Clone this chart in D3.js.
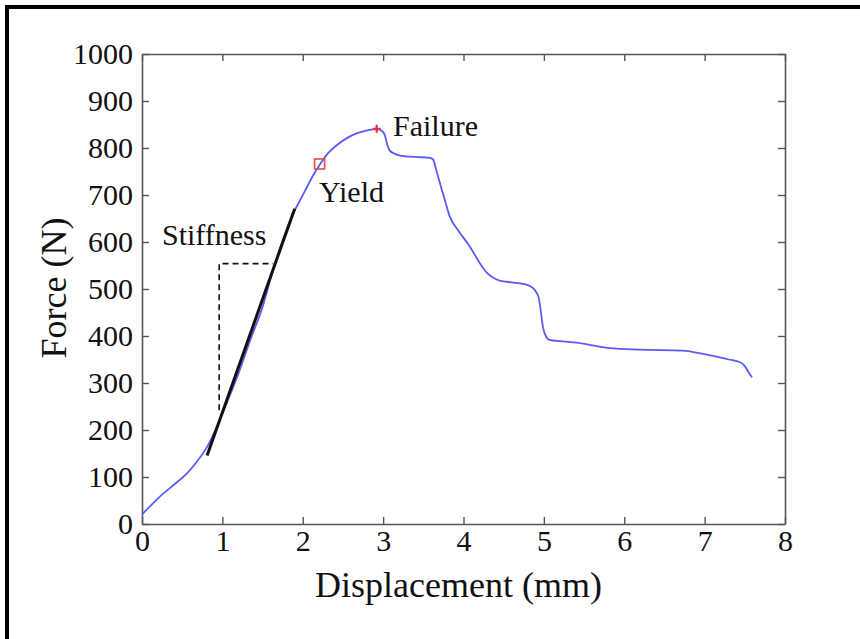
<!DOCTYPE html>
<html>
<head>
<meta charset="utf-8">
<script src="https://cdn.jsdelivr.net/npm/d3@7"></script>
<style>
  body { margin: 0; background: #fff; }
  text { font-family: "Liberation Serif", "DejaVu Serif", serif; fill: #111; }
</style>
</head>
<body>
<div id="chart"></div>
<script>
// Chart size
const width = 860;
const height = 639;

// Force-displacement curve
const dispMm = [0, 0.13, 0.26, 0.40, 0.55, 0.68, 0.81, 0.93, 1.06, 1.20, 1.34, 1.50, 1.63, 1.76, 1.88, 1.97,
                2.05, 2.13, 2.21, 2.30, 2.43, 2.55, 2.67, 2.77, 2.85, 2.92, 2.98, 3.02, 3.05, 3.08, 3.14,
                3.21, 3.40, 3.58, 3.62, 3.65, 3.69, 3.75, 3.83, 3.95, 4.08, 4.20, 4.29, 4.37, 4.45, 4.60,
                4.74, 4.85, 4.91, 4.94, 4.96, 4.99, 5.03, 5.07, 5.20, 5.41, 5.60, 5.82, 6.20, 6.73,
                6.95, 7.15, 7.30, 7.44, 7.50, 7.55, 7.59];
const forceN = [20, 43, 64, 84, 106, 132, 164, 206, 260, 320, 388, 462, 540, 608, 660, 690,
                716, 742, 764, 786, 807, 821, 831, 836, 839, 840, 837, 828, 808, 795, 788,
                784, 781, 779, 776, 760, 735, 700, 654, 621, 590, 556, 535, 524, 518, 514,
                511, 504, 492, 478, 455, 418, 398, 392, 389, 386, 380, 374, 371, 369,
                363, 356, 350, 344, 336, 322, 312];

// Stiffness fit line and the dashed slope triangle
const stiffX = [0.81, 1.90];
const stiffY = [146, 671];
const triX = [0.96, 0.96, 1.63];
const triY = [242, 554, 554];

// Marked points
const yieldPt = { x: 2.21, y: 766 };
const failPt = { x: 2.92, y: 841 };

// Axis ticks
const xTicks = [0, 1, 2, 3, 4, 5, 6, 7, 8];
const yTicks = [0, 100, 200, 300, 400, 500, 600, 700, 800, 900, 1000];

const svg = d3.select("#chart")
              .append("svg")
              .attr("width", width)
              .attr("height", height);

// outer frame (top and left only, as in the picture)
svg.append("line").attr("x1", 5).attr("x2", width).attr("y1", 7).attr("y2", 7)
   .attr("stroke", "#000").attr("stroke-width", 4);
svg.append("line").attr("x1", 7).attr("x2", 7).attr("y1", 5).attr("y2", height)
   .attr("stroke", "#000").attr("stroke-width", 4);

const x = d3.scaleLinear().domain([0, 8]).range([142, 785]);
const y = d3.scaleLinear().domain([0, 1000]).range([524, 54]);

const axisColor = "#555";
const tickLen = 7;
const fmt = d3.format("d");

// axes with inward ticks on all four sides
const axB = svg.append("g").attr("transform", `translate(0,${y(0)})`)
               .call(d3.axisBottom(x).tickValues(xTicks).tickFormat(fmt).tickSizeInner(-tickLen).tickSizeOuter(0).tickPadding(6));
const axT = svg.append("g").attr("transform", `translate(0,${y(1000)})`)
               .call(d3.axisTop(x).tickValues(xTicks).tickSizeInner(-tickLen).tickSizeOuter(0).tickFormat(""));
const axL = svg.append("g").attr("transform", `translate(${x(0)},0)`)
               .call(d3.axisLeft(y).tickValues(yTicks).tickFormat(fmt).tickSizeInner(-tickLen).tickSizeOuter(0).tickPadding(9));
const axR = svg.append("g").attr("transform", `translate(${x(8)},0)`)
               .call(d3.axisRight(y).tickValues(yTicks).tickSizeInner(-tickLen).tickSizeOuter(0).tickFormat(""));

[axB, axT, axL, axR].forEach(a => {
    a.select(".domain").attr("stroke", axisColor).attr("stroke-width", 1.6);
    a.selectAll(".tick line").attr("stroke", axisColor).attr("stroke-width", 1.4);
    a.selectAll(".tick text").attr("font-family", "Liberation Serif, serif")
     .attr("font-size", 30).attr("fill", "#111");
});
axB.selectAll(".tick text").attr("dy", "0.71em");

// main curve
const pts = dispMm.map((d, i) => [d, forceN[i]]);
const line = d3.line().x(d => x(d[0])).y(d => y(d[1])).curve(d3.curveMonotoneX);
svg.append("path")
   .datum(pts)
   .attr("d", line)
   .attr("fill", "none")
   .attr("stroke", "#5b5bf5")
   .attr("stroke-width", 1.8)
   .attr("stroke-linejoin", "round");

const straight = d3.line().x(d => x(d[0])).y(d => y(d[1]));

// stiffness fit line
svg.append("path")
   .datum(stiffX.map((d, i) => [d, stiffY[i]]))
   .attr("d", straight)
   .attr("stroke", "#111")
   .attr("stroke-width", 3);

// dashed triangle
svg.append("path")
   .datum(triX.map((d, i) => [d, triY[i]]))
   .attr("d", straight)
   .attr("fill", "none")
   .attr("stroke", "#111")
   .attr("stroke-width", 1.6)
   .attr("stroke-dasharray", "6,4");

// yield marker (square)
svg.append("rect")
   .attr("x", x(yieldPt.x) - 5)
   .attr("y", y(yieldPt.y) - 5)
   .attr("width", 10)
   .attr("height", 10)
   .attr("fill", "none")
   .attr("stroke", "#e04848")
   .attr("stroke-width", 1.6);

// failure marker (red plus)
svg.append("path")
   .attr("transform", `translate(${x(failPt.x)},${y(failPt.y)})`)
   .attr("d", "M-4,0H4M0,-4V4")
   .attr("stroke", "#e03030")
   .attr("stroke-width", 2.2);

// annotations
svg.append("text").attr("x", 393).attr("y", 136).attr("font-size", 30).text("Failure");
svg.append("text").attr("x", 319).attr("y", 202).attr("font-size", 30).text("Yield");
svg.append("text").attr("x", 162).attr("y", 245).attr("font-size", 30).text("Stiffness");

// axis titles
svg.append("text")
   .attr("x", (x(0) + x(8)) / 2 - 5)
   .attr("y", 597)
   .attr("text-anchor", "middle")
   .attr("font-size", 36)
   .text("Displacement (mm)");

svg.append("text")
   .attr("transform", `translate(66,${288}) rotate(-90)`)
   .attr("text-anchor", "middle")
   .attr("font-size", 36)
   .text("Force (N)");
</script>
</body>
</html>
